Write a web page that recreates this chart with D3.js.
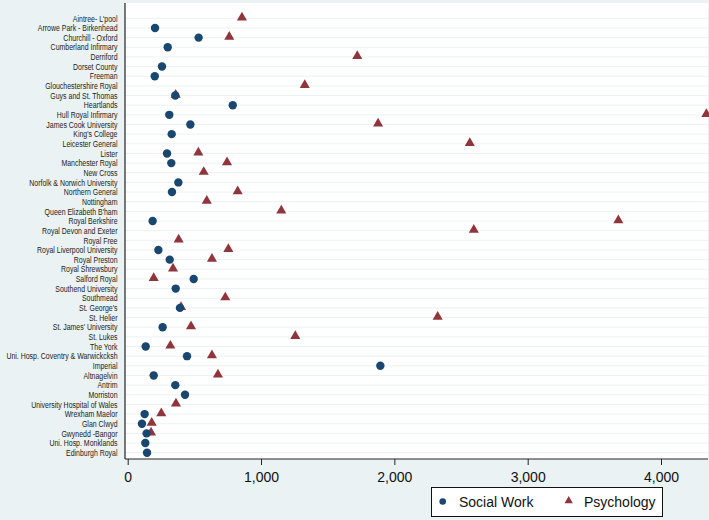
<!DOCTYPE html>
<html>
<head>
<meta charset="utf-8">
<script src="https://cdn.jsdelivr.net/npm/d3@7"></script>
<style>
  body { margin: 0; background: #eaf2f3; }
  svg { display: block; font-family: "Liberation Sans", Arial, sans-serif; }
</style>
</head>
<body>
<div id="chart"></div>
<script>
var hospitals = [
    "Aintree- L'pool", "Arrowe Park - Birkenhead", "Churchill - Oxford", "Cumberland Infirmary",
    "Derriford", "Dorset County", "Freeman", "Glouchestershire Royal", "Guys and St. Thomas",
    "Heartlands", "Hull Royal Infirmary", "James Cook University", "King's College",
    "Leicester General", "Lister", "Manchester Royal", "New Cross", "Norfolk & Norwich University",
    "Northern General", "Nottingham", "Queen Elizabeth B'ham", "Royal Berkshire",
    "Royal Devon and Exeter", "Royal Free", "Royal Liverpool University", "Royal Preston",
    "Royal Shrewsbury", "Salford Royal", "Southend University", "Southmead", "St. George's",
    "St. Helier", "St. James' University", "St. Lukes", "The York",
    "Uni. Hosp. Coventry & Warwickcksh", "Imperial", "Altnagelvin", "Antrim", "Morriston",
    "University Hospital of Wales", "Wrexham Maelor", "Glan Clwyd", "Gwynedd -Bangor",
    "Uni. Hosp. Monklands", "Edinburgh Royal"
];

// null = no value reported
var socialWork = [
    null, 205, 532, 300, null, 257, 203, null, 357, 788, 312, 470, 330, null, 295, 327,
    null, 380, 332, null, null, 187, null, null, 230, 315, null, 495, 360, null, 392,
    null, 262, null, 135, 445, 1895, 195, 357, 430, null, 127, 107, 142, 132, 145
];

var psychology = [
    857, null, 762, null, 1722, null, null, 1328, 360, null, 4340, 1878, null, 2566, 530, 745,
    570, null, 825, 593, 1152, 3680, 2596, 382, 755, 632, 340, 195, null, 732, 400,
    2325, 475, 1257, 320, 632, null, 677, null, null, 362, 252, 180, 175, null, null
];

var xTicks = [0, 1000, 2000, 3000, 4000];

var width = 709, height = 520;
var plotLeft = 125, plotRight = 708, plotTop = 3, plotBottom = 459;

var navy = "#1a476f", maroon = "#90353b", bg = "#eaf2f3";

var svg = d3.select("#chart").append("svg")
    .attr("width", width)
    .attr("height", height);

svg.append("rect")
    .attr("width", width).attr("height", height)
    .attr("fill", bg);

// white plot region
svg.append("rect")
    .attr("x", plotLeft).attr("y", plotTop)
    .attr("width", plotRight - plotLeft).attr("height", plotBottom - plotTop)
    .attr("fill", "#fff");

var x = d3.scaleLinear().domain([0, 4345]).range([127.7, 707]);
var y = d3.scalePoint().domain(hospitals).range([18.3, 452.7]);

// grid lines
svg.append("g").selectAll("line")
    .data(hospitals)
    .enter().append("line")
    .attr("x1", plotLeft).attr("x2", plotRight)
    .attr("y1", function(d) { return y(d); })
    .attr("y2", function(d) { return y(d); })
    .attr("stroke", bg)
    .attr("stroke-width", 1);

// y labels (the original font is narrow, so squeeze horizontally)
var squeeze = 0.83;
var yAxis = d3.axisLeft(y).tickSize(0);
var yAxisG = svg.append("g")
    .attr("transform", "translate(" + plotLeft + ",0)")
    .call(yAxis);
yAxisG.select(".domain").remove();
yAxisG.selectAll("text")
    .attr("x", -7.5 / squeeze)
    .attr("transform", "scale(" + squeeze + ",1)")
    .attr("font-size", "8.4px")
    .attr("font-family", "Liberation Sans, Arial, sans-serif")
    .attr("fill", "#222");

svg.append("line")
    .attr("x1", plotLeft).attr("x2", plotLeft)
    .attr("y1", plotTop).attr("y2", plotBottom)
    .attr("stroke", "#222").attr("stroke-width", 1.2);

// x axis
var xAxis = d3.axisBottom(x)
    .tickValues(xTicks)
    .tickFormat(d3.format(","))
    .tickSize(6)
    .tickSizeOuter(0)
    .tickPadding(7);
var xAxisG = svg.append("g")
    .attr("transform", "translate(0," + plotBottom + ")")
    .call(xAxis);
xAxisG.select(".domain")
    .attr("d", "M" + plotLeft + ",0H" + plotRight)
    .attr("stroke", "#222").attr("stroke-width", 1.2);
xAxisG.selectAll(".tick line").attr("stroke", "#222");
xAxisG.selectAll("text")
    .attr("font-size", "14px")
    .attr("font-family", "Liberation Sans, Arial, sans-serif")
    .attr("fill", "#111");

var tri = d3.symbol().type(d3.symbolTriangle).size(44);

// psychology triangles
svg.append("g").selectAll("path")
    .data(hospitals.filter(function(d, i) { return psychology[i] !== null; }))
    .enter().append("path")
    .attr("d", tri)
    .attr("transform", function(d) {
        var v = psychology[hospitals.indexOf(d)];
        return "translate(" + x(v) + "," + (y(d) - 0.8) + ")";
    })
    .attr("fill", maroon);

// social work circles
svg.append("g").selectAll("circle")
    .data(hospitals.filter(function(d, i) { return socialWork[i] !== null; }))
    .enter().append("circle")
    .attr("cx", function(d) { return x(socialWork[hospitals.indexOf(d)]); })
    .attr("cy", function(d) { return y(d); })
    .attr("r", 4.2)
    .attr("fill", navy);

// legend
var legend = svg.append("g");
legend.append("rect")
    .attr("x", 431.5).attr("y", 487.5)
    .attr("width", 231).attr("height", 29)
    .attr("fill", "#fff").attr("stroke", "#111").attr("stroke-width", 1);
legend.append("circle")
    .attr("cx", 442.7).attr("cy", 501.5).attr("r", 3.3)
    .attr("fill", navy);
legend.append("text")
    .attr("x", 459).attr("y", 506.5)
    .attr("font-size", "14px").attr("fill", "#111")
    .text("Social Work");
legend.append("path")
    .attr("d", d3.symbol().type(d3.symbolTriangle).size(30))
    .attr("transform", "translate(568.7,500.8)")
    .attr("fill", maroon);
legend.append("text")
    .attr("x", 584).attr("y", 506.5)
    .attr("font-size", "14px").attr("fill", "#111")
    .text("Psychology");
</script>
</body>
</html>
